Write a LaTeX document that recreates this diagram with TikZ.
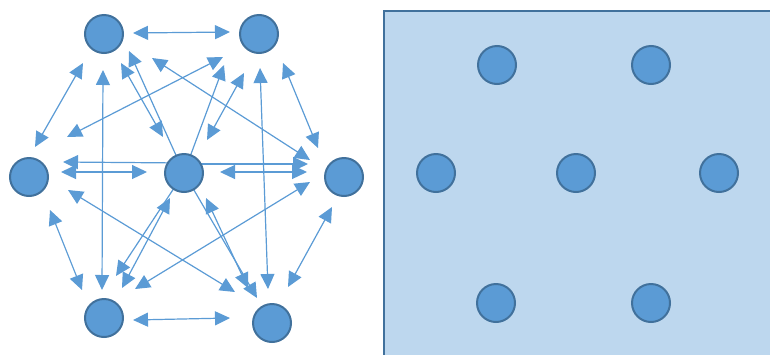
\documentclass[tikz,border=0pt]{standalone}
\usetikzlibrary{arrows.meta,calc,backgrounds}
\definecolor{nodefill}{HTML}{5B9BD5}
\definecolor{nodeedge}{HTML}{41719C}
\definecolor{panel}{HTML}{BDD7EE}
\begin{document}
\begin{tikzpicture}[x=1pt,y=-1pt,
  dot/.style={circle,fill=nodefill,draw=nodeedge,line width=2pt,minimum size=38pt,inner sep=0pt},
  link/.style={draw=nodefill,line width=1.2pt,{Triangle[length=15pt,width=14pt]}-{Triangle[length=15pt,width=14pt]}},
  one/.style={draw=nodefill,line width=1.2pt,-{Triangle[length=15pt,width=14pt]}}]
\useasboundingbox (0,0) rectangle (770,354);

% right panel
\fill[panel] (384,11) rectangle (775,360);
\draw[nodeedge,line width=2pt] (775,11) -- (384,11) -- (384,360);
\node[dot] (p1) at (497,65) {};
\node[dot] (p2) at (651,65) {};
\node[dot] (p3) at (436,173) {};
\node[dot] (p4) at (576,173) {};
\node[dot] (p5) at (719,173) {};
\node[dot] (p6) at (496,303) {};
\node[dot] (p7) at (651,303) {};

% left graph nodes
\node[dot] (TL) at (104,34) {};
\node[dot] (TR) at (259,34) {};
\node[dot] (L) at (29,177) {};
\node[dot] (C) at (184,173) {};
\node[dot] (R) at (344,177) {};
\node[dot] (BL) at (104,318) {};
\node[dot] (BR) at (272,323) {};

\begin{pgfonlayer}{background}
% outer double arrows
\draw[link] ($(TL)+(29,-1)$) -- ($(TR)+(-29,-2)$);
\draw[link] ($(TL)+(-21,29)$) -- ($(L)+(6,-30)$);
\draw[link] ($(TL)+(-1,36)$) -- ($(BL)+(-2,-28)$);
\draw[link] ($(TL)+(48,24)$) -- ($(R)+(-34,-17)$);
\draw[link] ($(TR)+(24,29)$) -- ($(R)+(-26,-29)$);
\draw[link] ($(TR)+(-36,23)$) -- ($(L)+(38,-40)$);
\draw[link] ($(TR)+(1,34)$) -- ($(BR)+(-4,-34)$);
\draw[link] ($(L)+(21,33)$) -- ($(BL)+(-22,-28)$);
\draw[link] ($(L)+(39,13)$) -- ($(BR)+(-37,-31)$);
\draw[link] ($(R)+(-34,5)$) -- ($(BL)+(31,-29)$);
\draw[link] ($(R)+(-12,30)$) -- ($(BR)+(16,-36)$);
\draw[link] ($(BL)+(29,2)$) -- ($(BR)+(-42,-5)$);
% centre double arrows
\draw[link] ($(TL)+(17,29)$) -- ($(C)+(-21,-36)$);
\draw[link] ($(TR)+(-15,39)$) -- ($(C)+(23,-33)$);
\draw[link] ($(L)+(32,-5)$) -- ($(C)+(-37,-1)$);
\draw[link] ($(R)+(-37,-5)$) -- ($(C)+(36,-1)$);
\draw[link] ($(BL)+(18,-30)$) -- ($(C)+(-14,25)$);
\draw[link] ($(BR)+(-24,-35)$) -- ($(C)+(22,25)$);
% centre single arrows
\draw[one] (C.center) -- ($(TL)+(25,17)$);
\draw[one] (C.center) -- ($(TR)+(-35,31)$);
\draw[one] ($(C)+(0,-10)$) -- ($(L)+(34,-15)$);
\draw[one] ($(C)+(0,-9)$) -- ($(R)+(-36,-13)$);
\draw[one] (C.center) -- ($(BL)+(12,-42)$);
\draw[one] (C.center) -- ($(BR)+(-15,-25)$);
\end{pgfonlayer}
\end{tikzpicture}
\end{document}
